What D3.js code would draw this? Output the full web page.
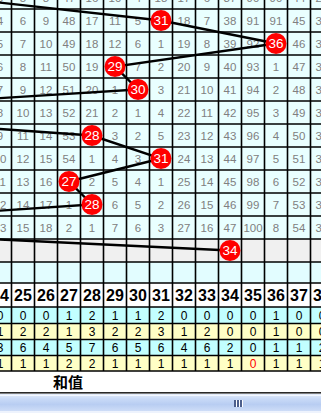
<!DOCTYPE html>
<html><head><meta charset="utf-8">
<script src="https://cdn.jsdelivr.net/npm/d3@7"></script>
<style>html,body{margin:0;padding:0;background:#fff;overflow:hidden}</style>
</head><body>
<svg id="chart" width="321" height="413"></svg>
<script>
// Sum values shown as columns (24 … 38)
const sums = [24,25,26,27,28,29,30,31,32,33,34,35,36,37,38];

// Winning sum for each draw row (top to bottom)
const balls = [22,31,36,29,30,14,28,31,27,28,13,34];

// Omission counts per row for columns 24 … 38 (null = the drawn sum)
const misses = [
  [3,5,8,47,16,10,4,18,17,6,37,90,90,44,29],
  [4,6,9,48,17,11,5,null,18,7,38,91,91,45,30],
  [5,7,10,49,18,12,6,1,19,8,39,92,null,46,31],
  [6,8,11,50,19,null,7,2,20,9,40,93,1,47,32],
  [7,9,12,51,20,1,null,3,21,10,41,94,2,48,33],
  [8,10,13,52,21,2,1,4,22,11,42,95,3,49,34],
  [9,11,14,53,null,3,2,5,23,12,43,96,4,50,35],
  [10,12,15,54,1,4,3,null,24,13,44,97,5,51,36],
  [11,13,16,null,2,5,4,1,25,14,45,98,6,52,37],
  [12,14,17,1,null,6,5,2,26,15,46,99,7,53,38],
  [13,15,18,2,1,7,6,3,27,16,47,100,8,54,39]
];

// Summary rows under the header
const tally1 = [0,0,0,1,2,1,1,2,0,0,0,0,1,0,0];
const tally2 = [1,2,2,1,3,2,2,3,1,2,0,0,1,0,0];
const tally3 = [3,6,4,5,7,6,5,6,4,6,2,0,1,1,2];
const tally4 = [1,1,1,2,2,1,1,1,1,1,1,0,1,1,1];

const footLabel = "和值";

const W = 321, H = 413;
const svg = d3.select("#chart");

const x = d3.scaleLinear().domain([24, 38]).range([0, 322]);
const cw = 23;
const y = d3.scaleLinear().domain([0, 11]).range([-2.5, 250.5]);
const rh = 23;

const numFont = "'Liberation Sans', Arial, sans-serif";

// ---- backgrounds
const bg = svg.append("g");
bg.append("rect").attr("x",0).attr("y",0).attr("width",W).attr("height",H).attr("fill","#fff");
misses.forEach((row, r) => {
  bg.append("rect").attr("x",0).attr("y",y(r)-rh/2).attr("width",W).attr("height",rh).attr("fill","#e9ffff");
});
// pending row (gray) and blank row
const grayTop = y(11) - rh/2, grayBot = y(11) + rh/2;
bg.append("rect").attr("x",0).attr("y",grayTop).attr("width",W).attr("height",grayBot-grayTop).attr("fill","#f0f0f0");
const blankTop = grayBot, blankBot = 283;
bg.append("rect").attr("x",0).attr("y",blankTop).attr("width",W).attr("height",blankBot-blankTop).attr("fill","#e2fdff");

// header + tally rows
const headTop = 283, headBot = 307;
const tallyBounds = [307, 323.5, 339.5, 355.5, 371];
const tallyRows = [tally1, tally2, tally3, tally4];
const tallyFill = ["#c2ffff", "#ffffc6", "#c2ffff", "#ffffc6"];
bg.append("rect").attr("x",0).attr("y",headTop).attr("width",W).attr("height",headBot-headTop).attr("fill","#fff");
tallyRows.forEach((t, i) => {
  bg.append("rect").attr("x",0).attr("y",tallyBounds[i]).attr("width",W)
    .attr("height",tallyBounds[i+1]-tallyBounds[i]).attr("fill",tallyFill[i]);
});

// ---- grid
const grid = svg.append("g").attr("stroke","#000").attr("stroke-width",1.6);
const colEdges = [23].concat(sums).map(c => x(c) + cw/2);
colEdges.forEach(xe => {
  grid.append("line").attr("x1",xe).attr("x2",xe).attr("y1",-20).attr("y2",371);
});
const rowEdges = d3.range(0, 12).map(r => y(r) + rh/2).concat([blankBot, headBot].concat(tallyBounds.slice(1)));
rowEdges.forEach(ye => {
  grid.append("line").attr("x1",0).attr("x2",W).attr("y1",ye).attr("y2",ye);
});

// ---- omission numbers
const nums = svg.append("g").attr("font-family",numFont).attr("font-size",11.5)
  .attr("fill","#808080").attr("text-anchor","middle");
misses.forEach((row, r) => {
  row.forEach((v, i) => {
    if (v === null) return;
    nums.append("text").attr("x",x(sums[i])).attr("y",y(r)+4).text(v);
  });
});

// ---- header numbers
svg.append("g").attr("font-family",numFont).attr("font-weight","bold").attr("font-size",16)
  .attr("fill","#000").attr("text-anchor","middle")
  .selectAll("text").data(sums).join("text")
  .attr("x",d => x(d)).attr("y",(headTop+headBot)/2 + 5.5).text(d => d);

// ---- tally rows
tallyRows.forEach((t, i) => {
  const cy = (tallyBounds[i] + tallyBounds[i+1]) / 2;
  svg.append("g").attr("font-family",numFont).attr("font-size",12)
    .attr("text-anchor","middle")
    .selectAll("text").data(t).join("text")
    .attr("x",(d, j) => x(sums[j])).attr("y",cy + 4.5)
    .attr("fill", d => (i === 3 && d === 0) ? "#ff0000" : "#000")
    .text(d => d);
});

// ---- trend line through drawn sums
const pts = balls.map((b, r) => [x(b), y(r)]);
svg.append("path").attr("d", d3.line()(pts)).attr("fill","none")
  .attr("stroke","#000").attr("stroke-width",2.4);

// ---- balls
const ballG = svg.append("g").selectAll("g").data(pts).join("g")
  .attr("transform", d => `translate(${d[0]},${d[1]})`);
ballG.append("circle").attr("r",10.5).attr("fill","#ff0000");
ballG.append("text").attr("text-anchor","middle").attr("y",4.8)
  .attr("font-family",numFont).attr("font-size",13.5).attr("fill","#fff")
  .text((d, i) => balls[i]);

// ---- footer label
svg.append("text").attr("x",68).attr("y",388).attr("text-anchor","middle")
  .attr("font-family","'Noto Sans CJK SC', sans-serif").attr("font-weight","bold")
  .attr("font-size",15).attr("fill","#000").text(footLabel);

// ---- horizontal scrollbar
const defs = svg.append("defs");
const grad = defs.append("linearGradient").attr("id","sb").attr("x1",0).attr("x2",0).attr("y1",0).attr("y2",1);
[["0%","#e4ecfb"],["25%","#c9daf7"],["55%","#b8cdf2"],["100%","#d5e2f9"]].forEach(s =>
  grad.append("stop").attr("offset",s[0]).attr("stop-color",s[1]));
svg.append("rect").attr("x",0).attr("y",392).attr("width",W).attr("height",1.6).attr("fill","#2a2a2a");
svg.append("rect").attr("x",0).attr("y",394).attr("width",W).attr("height",19).attr("fill","url(#sb)");
svg.append("rect").attr("x",0).attr("y",395).attr("width",W).attr("height",1).attr("fill","#f4f8ff");
svg.append("rect").attr("x",0).attr("y",411).attr("width",W).attr("height",2).attr("fill","#eef3fd");
const grip = svg.append("g");
[234, 237, 240].forEach(gx => {
  grip.append("rect").attr("x",gx).attr("y",400).attr("width",2).attr("height",7).attr("fill","#4d5f8c");
  grip.append("rect").attr("x",gx+2).attr("y",400).attr("width",1).attr("height",7).attr("fill","#ffffff");
});
</script>
</body></html>
